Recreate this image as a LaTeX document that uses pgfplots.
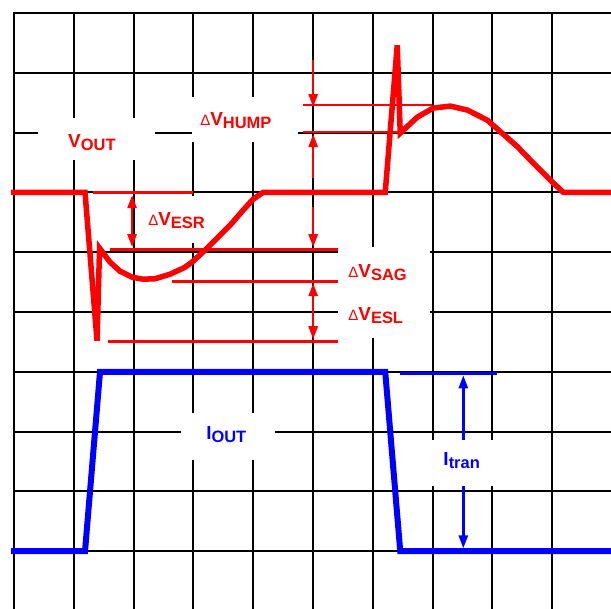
\documentclass[border=0pt]{standalone}
\usepackage{fontspec}
\setmainfont{Liberation Sans}
\usepackage{pgfplots}
\pgfplotsset{compat=1.18}
\usetikzlibrary{arrows.meta}
\definecolor{vred}{RGB}{255,0,0}
\definecolor{iblue}{RGB}{0,0,255}
\newcommand{\lab}[2]{{\fontsize{19}{19}\selectfont\bfseries #1\raisebox{-3.5bp}{\fontsize{16.5}{16.5}\selectfont #2}}}
\newcommand{\dl}{{\fontsize{15}{15}\selectfont\mdseries Δ}}
\begin{document}
\begin{tikzpicture}
\begin{axis}[x=59.75bp, y=59.75bp, xmin=-0.234, xmax=9.985, ymin=0.042, ymax=10.218,
  hide axis, clip=true, clip bounding box=upper bound]
\path (axis cs:-0.234,0.042) rectangle (axis cs:9.985,10.218);
% grid
\pgfplotsinvokeforeach{0,...,10}{
  \draw[black, line width=2bp, line cap=rect] (axis cs:#1,0) -- (axis cs:#1,10);
  \draw[black, line width=2bp, line cap=rect] (axis cs:0,#1) -- (axis cs:10,#1);
}
% white label boxes
\fill[white] (axis cs:0.402,7.540) rectangle (axis cs:2.360,8.243);
\fill[white] (axis cs:2.979,7.841) rectangle (axis cs:4.753,8.594);
\fill[white] (axis cs:2.109,6.151) rectangle (axis cs:3.364,6.937);
\fill[white] (axis cs:5.423,4.561) rectangle (axis cs:6.962,6.084);
\fill[white] (axis cs:2.795,2.519) rectangle (axis cs:4.368,3.305);
\fill[white] (axis cs:6.795,2.084) rectangle (axis cs:8.134,2.854);
% V_OUT
\addplot[vred, line width=5.5bp, line join=miter, mark=none] coordinates {
 (-0.05,7.0) (1.188,7.0) (1.389,4.52) (1.431,6.067)
 (1.607,5.833) (1.774,5.682) (1.975,5.582) (2.159,5.548) (2.360,5.556)
 (2.611,5.632) (2.862,5.749) (2.996,5.849) (3.230,6.067) (3.448,6.285)
 (3.615,6.452) (3.833,6.703) (4.000,6.887) (4.167,7.0)
 (6.209,7.0) (6.410,9.46) (6.460,7.992)
 (6.745,8.259) (7.012,8.410) (7.297,8.444) (7.582,8.377) (7.916,8.209)
 (8.134,8.017) (8.418,7.766) (8.686,7.490) (8.971,7.205) (9.188,7.0) (10.06,7.0)
};
% I_OUT
\addplot[iblue, line width=6bp, line join=miter, mark=none] coordinates {
 (-0.05,1.0) (1.188,1.0) (1.439,4.0) (6.209,4.0) (6.460,1.0) (10.06,1.0)
};
% red reference lines
\begin{scope}[vred, line width=2.7bp]
\draw (axis cs:1.322,7.0) -- (axis cs:2.996,7.0);
\draw (axis cs:1.607,6.050) -- (axis cs:5.423,6.050);
\draw (axis cs:2.644,5.515) -- (axis cs:5.423,5.515);
\draw (axis cs:1.573,4.510) -- (axis cs:5.423,4.510);
\draw (axis cs:4.837,8.460) -- (axis cs:6.996,8.460);
\draw (axis cs:4.837,8.008) -- (axis cs:6.427,8.008);
\end{scope}
% red arrows
\begin{scope}[vred, line width=2.5bp]
\draw[{Triangle[length=13bp,width=9bp]}-{Triangle[length=13bp,width=9bp]}] (axis cs:1.975,6.954) -- (axis cs:1.975,6.084);
\draw[-{Triangle[length=13bp,width=9bp]}] (axis cs:5.004,9.213) -- (axis cs:5.004,8.427);
\draw[-{Triangle[length=13bp,width=9bp]}] (axis cs:5.004,7.238) -- (axis cs:5.004,7.975);
\draw[-{Triangle[length=13bp,width=9bp]}] (axis cs:5.004,6.753) -- (axis cs:5.004,6.084);
\draw[{Triangle[length=13bp,width=9bp]}-{Triangle[length=13bp,width=9bp]}] (axis cs:5.004,5.481) -- (axis cs:5.004,4.544);
\end{scope}
% blue arrows
\begin{scope}[iblue, line width=2.5bp]
\draw (axis cs:6.46,3.975) -- (axis cs:8.084,3.975);
\draw[-{Triangle[length=13bp,width=9bp]}] (axis cs:7.515,2.854) -- (axis cs:7.515,3.941);
\draw[-{Triangle[length=13bp,width=9bp]}] (axis cs:7.515,2.084) -- (axis cs:7.515,1.046);
\end{scope}
% labels
\node[anchor=base west, inner sep=0, text=vred] at (axis cs:0.904,7.757) {\lab{V}{OUT}};
\node[anchor=base west, inner sep=0, text=vred] at (axis cs:3.113,8.126) {\dl\lab{V}{HUMP}};
\node[anchor=base west, inner sep=0, text=vred] at (axis cs:2.243,6.452) {\dl\lab{V}{ESR}};
\node[anchor=base west, inner sep=0, text=vred] at (axis cs:5.590,5.582) {\dl\lab{V}{SAG}};
\node[anchor=base west, inner sep=0, text=vred] at (axis cs:5.590,4.862) {\dl\lab{V}{ESL}};
\node[anchor=base west, inner sep=0, text=iblue] at (axis cs:3.213,2.870) {\lab{I}{OUT}};
\node[anchor=base west, inner sep=0, text=iblue] at (axis cs:7.180,2.435) {\lab{I}{tran}};
\end{axis}
\end{tikzpicture}
\end{document}
